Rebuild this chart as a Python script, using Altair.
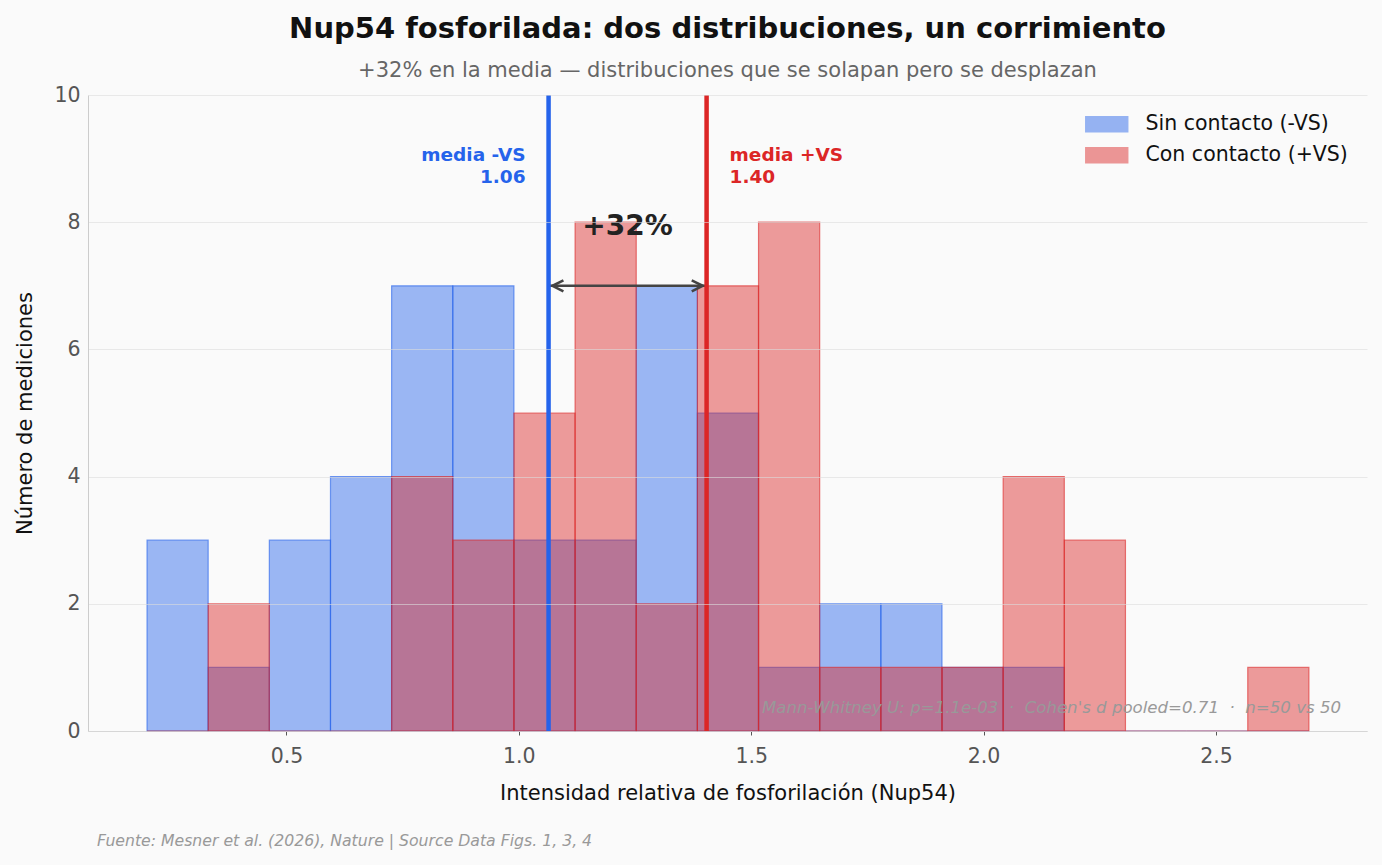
import altair as alt
import pandas as pd

# Histogram bins shared by both groups
bin_start = 0.2
bin_end = 2.7
n_bins = 19

series_names = ["Sin contacto (-VS)", "Con contacto (+VS)"]
series_colors = ["#2563eb", "#dc2626"]

# Counts per bin
counts_sin = [3, 1, 3, 4, 7, 7, 3, 3, 7, 5, 1, 2, 2, 1, 1, 0, 0, 0, 0]
counts_con = [0, 2, 0, 0, 4, 3, 5, 8, 2, 7, 8, 1, 1, 1, 4, 3, 0, 0, 1]

# Group means
means = [1.064, 1.404]
mean_tags = ["media -VS", "media +VS"]

arrow_y = 7
NB = "\u00a0"
stats_note = f"Mann-Whitney U: p=1.1e-03 {NB}·{NB} Cohen's d pooled=0.71 {NB}·{NB} n=50 vs 50"
source_note = "Fuente: Mesner et al. (2026), Nature | Source Data Figs. 1, 3, 4"

W, H = 1279, 636
FONT = "DejaVu Sans"

bw = (bin_end - bin_start) / n_bins
rows = []
for name, counts in zip(series_names, [counts_sin, counts_con]):
    for i, c in enumerate(counts):
        rows.append({"serie": name, "x0": bin_start + i * bw,
                     "x1": bin_start + (i + 1) * bw, "n": c})
hist = pd.DataFrame(rows)

pct = round((means[1] / means[0] - 1) * 100)
mean_df = pd.DataFrame({
    "serie": series_names,
    "m": means,
    "label": [f"{t}\n{m:.2f}" for t, m in zip(mean_tags, means)],
    "color": series_colors,
})

x_scale = alt.Scale(domain=[0.073, 2.825], nice=False, zero=False)
y_scale = alt.Scale(domain=[0, 10], nice=False)
col_scale = alt.Scale(domain=series_names, range=series_colors)

# Wide rectangular patch: legend layout sees a small symbol, the path draws 42x15 px
legend = alt.Legend(
    title=None, orient="top-right", offset=19, padding=0,
    symbolType="M-1,-1L4.6,-1L4.6,1L-1,1Z", symbolSize=225,
    symbolStrokeWidth=1.4, labelFontSize=20.5, labelFont=FONT, labelLimit=0,
    labelColor="#111", labelOffset=42, rowPadding=9, symbolOpacity=0.47,
)

x_axis = alt.Axis(
    title="Intensidad relativa de fosforilación (Nup54)", values=[0.5, 1.0, 1.5, 2.0, 2.5],
    format=".1f", grid=False, domainColor="#cccccc", tickColor="#555555", tickSize=4,
    labelFontSize=20.5, labelColor="#555555", labelFont=FONT, labelPadding=11,
    titleFontSize=21, titleFont=FONT, titleFontWeight="normal", titleColor="#111",
    titlePadding=16,
)
y_axis = alt.Axis(
    title="Número de mediciones", values=[0, 2, 4, 6, 8, 10], format="d", grid=True,
    gridColor="#dcdcdc", gridOpacity=0.6, domainColor="#cccccc", ticks=False,
    labelFontSize=20.5, labelColor="#555555", labelFont=FONT, labelPadding=8,
    titleFontSize=21, titleFont=FONT, titleFontWeight="normal", titleColor="#111",
    titlePadding=18, zindex=1,
)


def bars(name):
    return alt.Chart(hist).transform_filter(alt.datum.serie == name).mark_rect(
        fillOpacity=0.45, strokeOpacity=0.6, strokeWidth=1.2
    ).encode(
        x=alt.X("x0:Q", scale=x_scale, axis=x_axis),
        x2="x1:Q",
        y=alt.Y("n:Q", scale=y_scale, axis=y_axis),
        y2=alt.datum(0),
        color=alt.Color("serie:N", scale=col_scale, legend=legend),
        stroke=alt.Stroke("serie:N", scale=col_scale, legend=legend),
    )


bars_sin = bars(series_names[0])
bars_con = bars(series_names[1])

# Double-headed arrow between the means
arrow_df = pd.DataFrame({"a": [means[0]], "b": [means[1]], "y": [arrow_y]})
arrow_line = alt.Chart(arrow_df).mark_rule(color="#444444", strokeWidth=2.6).encode(
    x=alt.X("a:Q", scale=x_scale), x2="b:Q", y=alt.Y("y:Q", scale=y_scale)
)
heads_df = pd.DataFrame({
    "x": means, "y": [arrow_y, arrow_y],
    "side": ["left", "right"],
})
head_left = alt.Chart(heads_df).transform_filter(alt.datum.side == "left").mark_point(
    shape="M2.7,-1L0.7,0L2.7,1", size=121, filled=False, color="#444444",
    strokeWidth=2.6, opacity=1, strokeJoin="miter"
).encode(x=alt.X("x:Q", scale=x_scale), y=alt.Y("y:Q", scale=y_scale))
head_right = alt.Chart(heads_df).transform_filter(alt.datum.side == "right").mark_point(
    shape="M-2.7,-1L-0.7,0L-2.7,1", size=121, filled=False, color="#444444",
    strokeWidth=2.6, opacity=1, strokeJoin="miter"
).encode(x=alt.X("x:Q", scale=x_scale), y=alt.Y("y:Q", scale=y_scale))

pct_df = pd.DataFrame({"x": [(means[0] + means[1]) / 2], "y": [arrow_y], "t": [f"+{pct}%"]})
pct_text = alt.Chart(pct_df).mark_text(
    font=FONT, fontSize=28, fontWeight="bold", color="#222222", baseline="middle", dy=-59
).encode(x=alt.X("x:Q", scale=x_scale), y=alt.Y("y:Q", scale=y_scale), text="t:N")

# Vertical mean lines
mean_rules = alt.Chart(mean_df).mark_rule(strokeWidth=4.5).encode(
    x=alt.X("m:Q", scale=x_scale),
    color=alt.Color("color:N", scale=None),
)

label_top = 9.2
mean_label_left = alt.Chart(mean_df.iloc[[0]]).mark_text(
    font=FONT, fontSize=18.5, fontWeight="bold", align="right", baseline="top",
    lineBreak="\n", lineHeight=22, dx=-23
).encode(
    x=alt.X("m:Q", scale=x_scale), y=alt.datum(label_top),
    text="label:N", color=alt.Color("color:N", scale=None),
)
mean_label_right = alt.Chart(mean_df.iloc[[1]]).mark_text(
    font=FONT, fontSize=18.5, fontWeight="bold", align="left", baseline="top",
    lineBreak="\n", lineHeight=22, dx=23
).encode(
    x=alt.X("m:Q", scale=x_scale), y=alt.datum(label_top),
    text="label:N", color=alt.Color("color:N", scale=None),
)

stats_text = alt.Chart(pd.DataFrame({"t": [stats_note]})).mark_text(
    font=FONT, fontSize=16.6, fontStyle="italic", color="#999999", align="right",
    baseline="middle"
).encode(x=alt.value(W - 26), y=alt.value(H - 23), text="t:N")

source_text = alt.Chart(pd.DataFrame({"t": [source_note]})).mark_text(
    font=FONT, fontSize=15.7, fontStyle="italic", color="#999999", align="left",
    baseline="middle"
).encode(x=alt.value(9), y=alt.value(H + 110), text="t:N")

chart = alt.layer(
    bars_sin, bars_con, arrow_line, head_left, head_right, mean_rules,
    mean_label_left, mean_label_right, pct_text, stats_text, source_text,
).properties(
    width=W, height=H,
    autosize=alt.AutoSizeParams(type="none"),
    padding={"left": 88, "top": 95, "right": 15, "bottom": 134},
    background="#fafafa",
    title=alt.TitleParams(
        text="Nup54 fosforilada: dos distribuciones, un corrimiento",
        subtitle="+32% en la media — distribuciones que se solapan pero se desplazan",
        font=FONT, fontSize=29, fontWeight="bold", color="#111111",
        subtitleFont=FONT, subtitleFontSize=21, subtitleColor="#666666",
        subtitlePadding=16, anchor="middle", offset=4,
    ),
).configure_view(stroke=None)

chart.save("out.html", embed_options={"renderer": "svg", "actions": False})
